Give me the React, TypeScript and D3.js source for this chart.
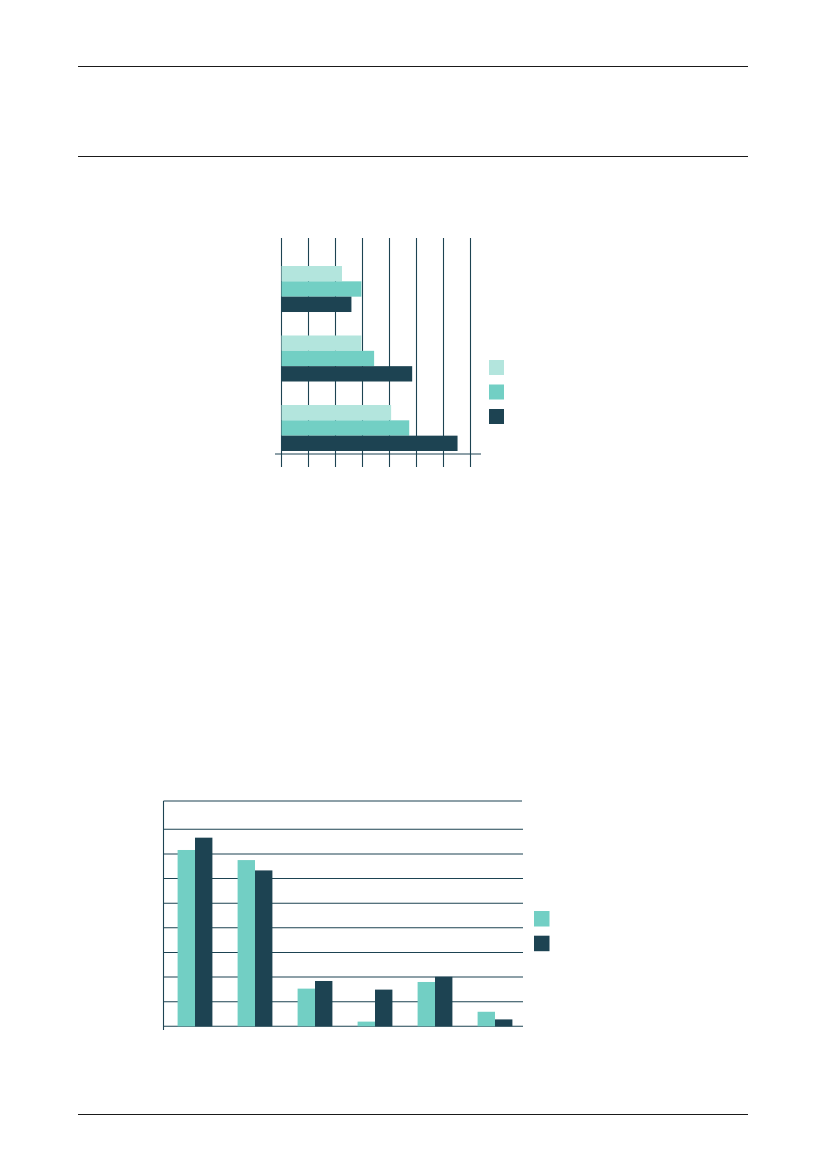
import React, { useEffect, useRef } from 'react';
import * as d3 from 'd3';

// Horizontal chart (top)
const hCategories = ['A', 'B', 'C'];
const hSeries = ['s1', 's2', 's3'];
const hValues = [
  [2.24, 2.96, 2.59],
  [2.96, 3.43, 4.84],
  [4.06, 4.73, 6.52],
];
const hTicks = [0, 1, 2, 3, 4, 5, 6, 7];

// Vertical chart (bottom)
const vCategories = ['1', '2', '3', '4', '5', '6'];
const vSeries = ['a', 'b'];
const vValues = [
  [7.16, 7.66],
  [6.75, 6.33],
  [1.53, 1.84],
  [0.19, 1.49],
  [1.8, 2.01],
  [0.59, 0.28],
];
const vTicks = [0, 1, 2, 3, 4, 5, 6, 7, 8];

const LIGHT = '#b3e5dd';
const MID = '#72cfc4';
const DARK = '#1d4352';
const RULE = '#1a1a1a';

const App: React.FC = () => {
  const svgRef = useRef<SVGSVGElement>(null);

  useEffect(() => {
    if (!svgRef.current) return;
    const svg = d3.select(svgRef.current);
    svg.selectAll('*').remove();

    // page rules
    [66.5, 156.5, 1114.5].forEach(y => {
      svg.append('line')
        .attr('x1', 78).attr('x2', 748)
        .attr('y1', y).attr('y2', y)
        .attr('stroke', RULE).attr('stroke-width', 1.1);
    });

    // ---- top horizontal bar chart ----
    const hx = d3.scaleLinear().domain([0, 7]).range([281.5, 470.5]);
    const hy = d3.scaleBand<string>().domain(hCategories).range([266, 451]).paddingInner(0.338).paddingOuter(0);
    const hyInner = d3.scaleBand<string>().domain(hSeries).range([0, hy.bandwidth()]);
    const hColor = d3.scaleOrdinal<string, string>().domain(hSeries).range([LIGHT, MID, DARK]);

    const top = svg.append('g');

    top.selectAll('.hgrid')
      .data(hTicks)
      .enter()
      .append('line')
      .attr('x1', d => hx(d)).attr('x2', d => hx(d))
      .attr('y1', 238).attr('y2', 467)
      .attr('stroke', DARK).attr('stroke-width', 1.1);

    hCategories.forEach((c, i) => {
      top.selectAll(`.hbar-${i}`)
        .data(hValues[i])
        .enter()
        .append('rect')
        .attr('x', hx(0))
        .attr('y', (_, j) => (hy(c) as number) + (hyInner(hSeries[j]) as number))
        .attr('width', d => hx(d) - hx(0))
        .attr('height', hyInner.bandwidth())
        .attr('fill', (_, j) => hColor(hSeries[j]));
    });

    top.append('line')
      .attr('x1', 275).attr('x2', 481)
      .attr('y1', 454).attr('y2', 454)
      .attr('stroke', DARK).attr('stroke-width', 1.1);

    hSeries.forEach((s, i) => {
      top.append('rect')
        .attr('x', 489).attr('y', 360 + i * 24.5)
        .attr('width', 15).attr('height', 15)
        .attr('fill', hColor(s));
    });

    // ---- bottom vertical bar chart ----
    const vx = d3.scaleBand<string>().domain(vCategories).range([165, 525]).paddingInner(0.42).paddingOuter(0.21);
    const vxInner = d3.scaleBand<string>().domain(vSeries).range([0, vx.bandwidth()]);
    const vy = d3.scaleLinear().domain([0, 8]).range([1026.3, 829.3]);
    const vColor = d3.scaleOrdinal<string, string>().domain(vSeries).range([MID, DARK]);

    const bottom = svg.append('g');

    bottom.selectAll('.vgrid')
      .data(vTicks)
      .enter()
      .append('line')
      .attr('x1', 163.5).attr('x2', 523)
      .attr('y1', d => vy(d)).attr('y2', d => vy(d))
      .attr('stroke', DARK).attr('stroke-width', 1.1);

    // frame top and left axis
    bottom.append('line')
      .attr('x1', 163.5).attr('x2', 522)
      .attr('y1', 801).attr('y2', 801)
      .attr('stroke', DARK).attr('stroke-width', 1.1);
    bottom.append('line')
      .attr('x1', 163.5).attr('x2', 163.5)
      .attr('y1', 801).attr('y2', 1030)
      .attr('stroke', DARK).attr('stroke-width', 1.1);

    vCategories.forEach((c, i) => {
      bottom.selectAll(`.vbar-${i}`)
        .data(vValues[i])
        .enter()
        .append('rect')
        .attr('x', (_, j) => (vx(c) as number) + (vxInner(vSeries[j]) as number))
        .attr('y', d => vy(d))
        .attr('width', vxInner.bandwidth())
        .attr('height', d => vy(0) - vy(d))
        .attr('fill', (_, j) => vColor(vSeries[j]));
    });

    vSeries.forEach((s, i) => {
      bottom.append('rect')
        .attr('x', 534).attr('y', 911 + i * 24.7)
        .attr('width', 15.5).attr('height', 15.5)
        .attr('fill', vColor(s));
    });
  }, []);

  return (
    <svg
      ref={svgRef}
      width={827}
      height={1169}
      style={{ position: 'absolute', left: 0, top: 0, background: '#fff' }}
    />
  );
};

export default App;
